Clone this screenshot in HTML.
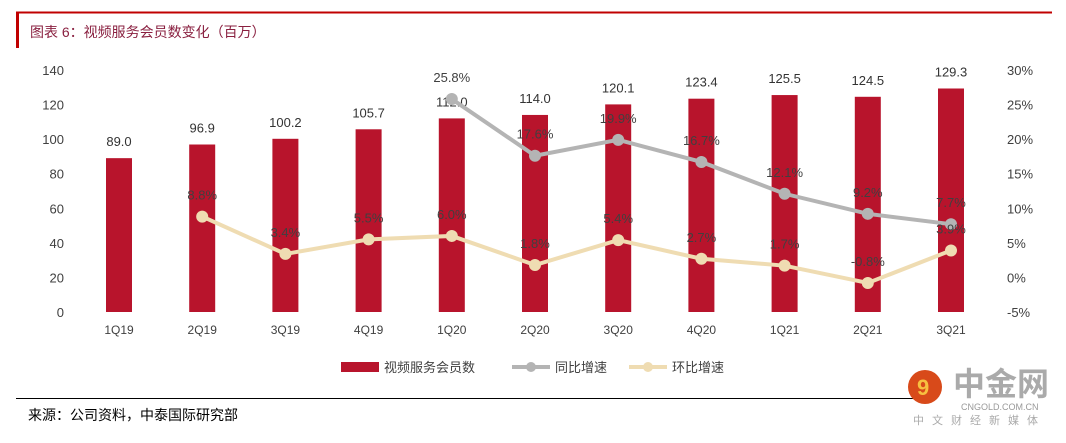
<!DOCTYPE html>
<html><head><meta charset="utf-8"><style>
body{margin:0;width:1066px;height:438px;background:#fff;overflow:hidden;font-family:"Liberation Sans","Noto Sans CJK SC",sans-serif;}
</style></head><body>
<svg width="1066" height="438" xmlns="http://www.w3.org/2000/svg" font-family="Liberation Sans, Noto Sans CJK SC, sans-serif">
<line x1="16" y1="12.5" x2="1052" y2="12.5" stroke="#c00000" stroke-width="2"/>
<rect x="16" y="12" width="3" height="36" fill="#c00000"/>
<text x="30" y="37" font-size="14" fill="#8a2040">图表 6：视频服务会员数变化（百万）</text>
<g id="chart"></g>
<line x1="16" y1="398.5" x2="920" y2="398.5" stroke="#000" stroke-width="1"/>
<text x="28" y="420" font-size="14" fill="#000">来源：公司资料，中泰国际研究部</text>
<g>
<circle cx="925" cy="387" r="17" fill="#d84a1a"/>
<text x="917" y="395" font-size="22" font-weight="bold" fill="#f7c040">9</text>
<text x="953" y="395" font-size="32" font-weight="bold" fill="#aaa">中金网</text>
<text x="961" y="410" font-size="9" fill="#999">CNGOLD.COM.CN</text>
<text x="913" y="424" font-size="11" fill="#aaa" letter-spacing="8">中文财经新媒体</text>
</g>
</svg>
<script>
const categories=["1Q19","2Q19","3Q19","4Q19","1Q20","2Q20","3Q20","4Q20","1Q21","2Q21","3Q21"];
const members=[89.0,96.9,100.2,105.7,112.0,114.0,120.1,123.4,125.5,124.5,129.3];
const yoy=[null,null,null,null,25.8,17.6,19.9,16.7,12.1,9.2,7.7];
const qoq=[null,8.8,3.4,5.5,6.0,1.8,5.4,2.7,1.7,-0.8,3.9];
const leftTicks=[0,20,40,60,80,100,120,140];
const rightTicks=[-5,0,5,10,15,20,25,30];
const NS="http://www.w3.org/2000/svg";
const g=document.getElementById('chart');
const x=i=>119+i*83.2;
const yL=v=>312-v*(242/140);
const yR=v=>312-(v+5)*(242/35);
function mk(t,a,txt){const e=document.createElementNS(NS,t);for(const k in a)e.setAttribute(k,a[k]);if(txt!=null)e.textContent=txt;g.appendChild(e);return e;}
leftTicks.forEach(v=>{const e=mk('text',{x:64,y:yL(v)+5,'text-anchor':'end','font-size':13,fill:'#404040'},v);

});
rightTicks.forEach(v=>{const e=mk('text',{x:1007,y:yR(v)+5,'font-size':13,fill:'#404040'},v+'%');

});
categories.forEach((c,i)=>{
const b=mk('rect',{x:x(i)-13,y:yL(members[i]),width:26,height:312-yL(members[i]),fill:'#b8142c'});


const l=mk('text',{x:x(i),y:yL(members[i])-12,'text-anchor':'middle','font-size':13,fill:'#333'},members[i].toFixed(1));


const t=mk('text',{x:x(i),y:334,'text-anchor':'middle','font-size':12,fill:'#404040'},c);


});
function series(arr,color,name){
const pts=[];arr.forEach((v,i)=>{if(v!=null)pts.push([x(i),yR(v),v]);});
const p=mk('polyline',{points:pts.map(p=>p[0]+','+p[1]).join(' '),fill:'none',stroke:color,'stroke-width':4});


pts.forEach(q=>{const c=mk('circle',{cx:q[0],cy:q[1],r:6,fill:color});

});
pts.forEach(q=>{const t=mk('text',{x:q[0],y:q[1]-17,'text-anchor':'middle','font-size':13,fill:'#404040'},q[2].toFixed(1)+'%');

});
}
series(yoy,'#b4b4b4','yoy');
series(qoq,'#efdcb2','qoq');
// legend
let e=mk('rect',{x:341,y:362,width:38,height:10,fill:'#b8142c'});


e=mk('text',{x:384,y:372,'font-size':13,fill:'#404040'},'视频服务会员数');


e=mk('line',{x1:512,y1:367,x2:550,y2:367,stroke:'#b4b4b4','stroke-width':4});


e=mk('circle',{cx:531,cy:367,r:5,fill:'#b4b4b4'});


e=mk('text',{x:555,y:372,'font-size':13,fill:'#404040'},'同比增速');


e=mk('line',{x1:629,y1:367,x2:667,y2:367,stroke:'#efdcb2','stroke-width':4});


e=mk('circle',{cx:648,cy:367,r:5,fill:'#efdcb2'});


e=mk('text',{x:672,y:372,'font-size':13,fill:'#404040'},'环比增速');


</script>
</body></html>
